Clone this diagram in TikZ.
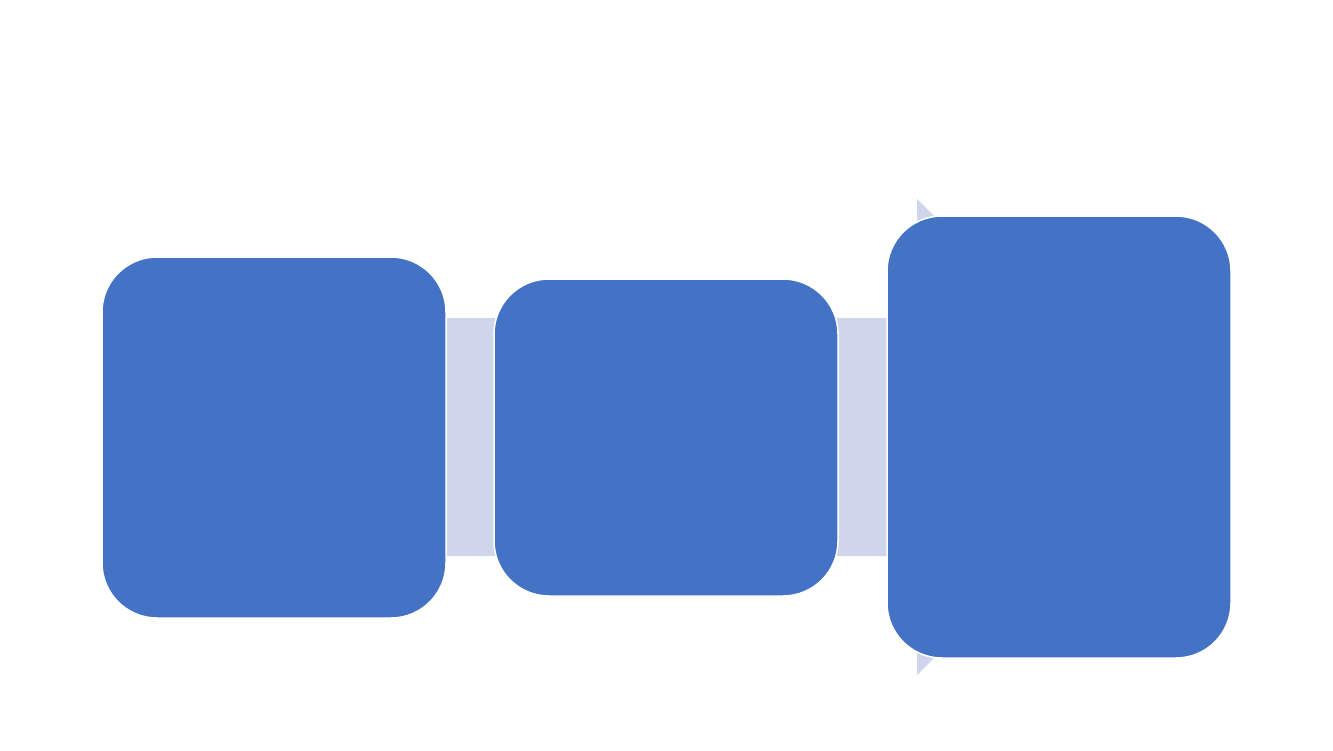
\documentclass[tikz,border=0pt]{standalone}
\usepackage{tikz}
\definecolor{boxblue}{HTML}{4472C4}
\definecolor{arrowfill}{HTML}{CFD5EA}
\begin{document}
\begin{tikzpicture}[x=1pt,y=-1pt,
  box/.style={fill=boxblue,draw=white,line width=1.5pt,rounded corners=55pt}]
\useasboundingbox (0,0) rectangle (1333,750);
% background arrow
\fill[arrowfill] (200,318) -- (917,318) -- (917,199) -- (1155,437) -- (917,675) -- (917,556) -- (200,556) -- cycle;
\draw[box] (102,257) rectangle (446,618) node[pos=0.5] (b1) {};
\draw[box] (494,279) rectangle (838,596) node[pos=0.5] (b2) {};
\draw[box] (887,216) rectangle (1231,658) node[pos=0.5] (b3) {};
\end{tikzpicture}
\end{document}
